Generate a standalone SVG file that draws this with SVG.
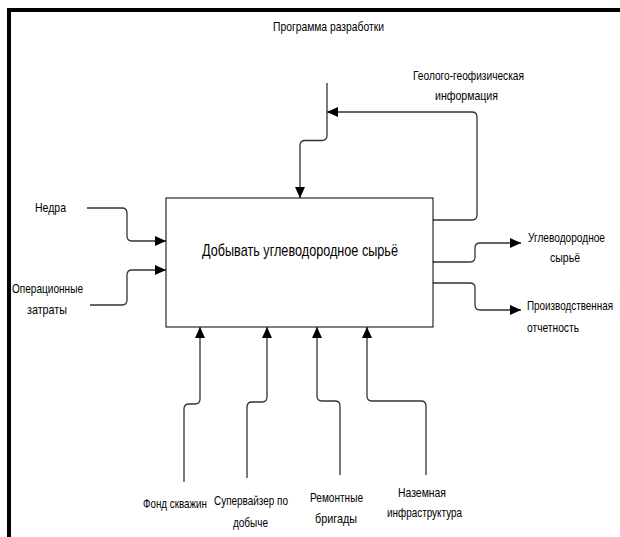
<svg xmlns="http://www.w3.org/2000/svg" width="620" height="537" viewBox="0 0 620 537">
  <style>
    .lbl { font-family: "Liberation Sans Narrow", "Liberation Sans", Arial, sans-serif; font-size: 13.5px; fill: #000; }
    .title { font-family: "Liberation Sans Narrow", "Liberation Sans", Arial, sans-serif; font-size: 17px; fill: #000; }
    .arc { fill: none; stroke: #333; stroke-width: 1.3; }
    .arr { marker-end: url(#head); }
  </style>
  <defs>
    <marker id="head" markerUnits="userSpaceOnUse" markerWidth="12" markerHeight="10" refX="11" refY="5" orient="auto">
      <path d="M0,0 L11,5 L0,10 z" fill="#000"/>
    </marker>
  </defs>
  <rect width="620" height="537" fill="#fff"/>
  <!-- frame -->
  <path d="M9,537 V10 H620" fill="none" stroke="#000" stroke-width="4"/>

  <g id="connectors">
    <!-- inputs -->
    <path class="arc arr" d="M87,208 H122 Q127,208 127,213 V236 Q127,241 132,241 H166"/>
    <path class="arc arr" d="M90,305 H122 Q127,305 127,300 V275 Q127,270 132,270 H166"/>
    <!-- control -->
    <path class="arc arr" d="M327,83 V135 Q327,140.5 322,140.5 H305 Q300,140.5 300,145.5 V198"/>
    <!-- feedback -->
    <path class="arc arr" d="M433,220 H472 Q477,220 477,215 V117 Q477,112 472,112 H327"/>
    <!-- outputs -->
    <path class="arc arr" d="M433,262 H470 Q475,262 475,257 V248 Q475,243 480,243 H521"/>
    <path class="arc arr" d="M433,283 H470 Q475,283 475,288 V305 Q475,310 480,310 H521"/>
    <!-- mechanisms -->
    <path class="arc arr" d="M184,482 V409 Q184,404 189,404 H195 Q200,404 200,399 V327"/>
    <path class="arc arr" d="M247,478 V407 Q247,402 252,402 H262 Q267,402 267,397 V327"/>
    <path class="arc arr" d="M340,475 V406 Q340,401 335,401 H322 Q317,401 317,396 V327"/>
    <path class="arc arr" d="M426,475 V406 Q426,401 421,401 H372 Q367,401 367,396 V327"/>
  </g>

  <g id="activity">
    <rect x="166" y="198" width="267" height="129" fill="#fff" stroke="#000" stroke-width="1"/>
    <text class="title" x="202" y="256" textLength="196" lengthAdjust="spacingAndGlyphs">Добывать углеводородное сырьё</text>
  </g>

  <g id="control-program">
    <text class="lbl" x="273" y="31" textLength="111" lengthAdjust="spacingAndGlyphs">Программа разработки</text>
  </g>
  <g id="control-geo">
    <text class="lbl" x="413" y="80" textLength="111" lengthAdjust="spacingAndGlyphs">Геолого-геофизическая</text>
    <text class="lbl" x="435" y="100" textLength="63" lengthAdjust="spacingAndGlyphs">информация</text>
  </g>
  <g id="input-nedra">
    <text class="lbl" x="35" y="212" textLength="31" lengthAdjust="spacingAndGlyphs">Недра</text>
  </g>
  <g id="input-costs">
    <text class="lbl" x="12" y="293" textLength="71" lengthAdjust="spacingAndGlyphs">Операционные</text>
    <text class="lbl" x="27" y="314" textLength="40" lengthAdjust="spacingAndGlyphs">затраты</text>
  </g>
  <g id="output-raw">
    <text class="lbl" x="605" y="242" text-anchor="end" textLength="77" lengthAdjust="spacingAndGlyphs">Углеводородное</text>
    <text class="lbl" x="550" y="262" textLength="30" lengthAdjust="spacingAndGlyphs">сырьё</text>
  </g>
  <g id="output-report">
    <text class="lbl" x="613" y="310" text-anchor="end" textLength="86" lengthAdjust="spacingAndGlyphs">Производственная</text>
    <text class="lbl" x="527" y="332" textLength="52" lengthAdjust="spacingAndGlyphs">отчетность</text>
  </g>
  <g id="mech-wells">
    <text class="lbl" x="207" y="508" text-anchor="end" textLength="64" lengthAdjust="spacingAndGlyphs">Фонд скважин</text>
  </g>
  <g id="mech-supervisor">
    <text class="lbl" x="214" y="505" textLength="74" lengthAdjust="spacingAndGlyphs">Супервайзер по</text>
    <text class="lbl" x="233" y="527" textLength="35" lengthAdjust="spacingAndGlyphs">добыче</text>
  </g>
  <g id="mech-crews">
    <text class="lbl" x="310" y="502" textLength="53" lengthAdjust="spacingAndGlyphs">Ремонтные</text>
    <text class="lbl" x="315" y="523" textLength="42" lengthAdjust="spacingAndGlyphs">бригады</text>
  </g>
  <g id="mech-infra">
    <text class="lbl" x="398" y="497" textLength="48" lengthAdjust="spacingAndGlyphs">Наземная</text>
    <text class="lbl" x="387" y="517" textLength="75" lengthAdjust="spacingAndGlyphs">инфраструктура</text>
  </g>
</svg>
